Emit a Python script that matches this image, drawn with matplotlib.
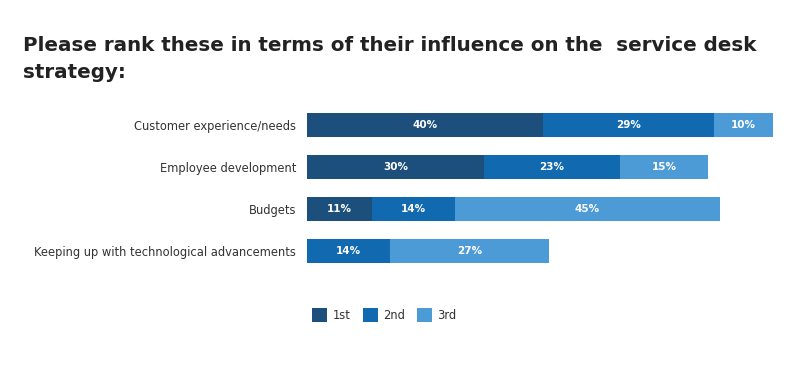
import matplotlib
matplotlib.use('Agg')
import matplotlib.pyplot as plt
from matplotlib.patches import Patch

# Data
categories = ['Customer experience/needs', 'Employee development', 'Budgets',
              'Keeping up with technological advancements']
first = [40, 30, 11, 0]
second = [29, 23, 14, 14]
third = [10, 15, 45, 27]
ranks = ['1st', '2nd', '3rd']
colors = ['#1c4f7c', '#1169b0', '#4d9bd6']

fig = plt.figure(figsize=(8.01, 3.89), dpi=100)
W, H = 801, 389
ax = fig.add_axes([307 / W, 1 - 272 / H, 472 / W, 168 / H])

left = [0] * len(categories)
for vals, col in zip([first, second, third], colors):
    ax.barh(range(len(categories)), vals, left=left, height=0.55, color=col)
    for i, v in enumerate(vals):
        if v > 0:
            ax.text(left[i] + v / 2, i, f'{v}%', ha='center', va='center',
                    color='white', fontsize=7.5, fontweight='bold')
    left = [l + v for l, v in zip(left, vals)]

ax.set_xlim(0, 80)
ax.set_ylim(3.5, -0.5)
ax.set_yticks(range(len(categories)))
ax.set_yticklabels(categories, fontsize=8.3, color='#333333')
ax.tick_params(axis='y', length=0, pad=8)
ax.set_xticks([])
for s in ax.spines.values():
    s.set_visible(False)

fig.text(23 / W, 1 - 59 / H, 'Please rank these in terms of their influence on the  service desk\nstrategy:',
         ha='left', va='center', fontsize=14.3, fontweight='bold', color='#222222',
         linespacing=1.5)

handles = [Patch(facecolor=c, label=r) for c, r in zip(colors, ranks)]
fig.legend(handles=handles, loc='center left', bbox_to_anchor=(302 / W, 1 - 315 / H),
           ncol=3, frameon=False, fontsize=8.3, handlelength=1.3, handleheight=1.6,
           columnspacing=1.0, handletextpad=0.5, labelcolor='#333333')

plt.savefig('out.png', dpi=100)
